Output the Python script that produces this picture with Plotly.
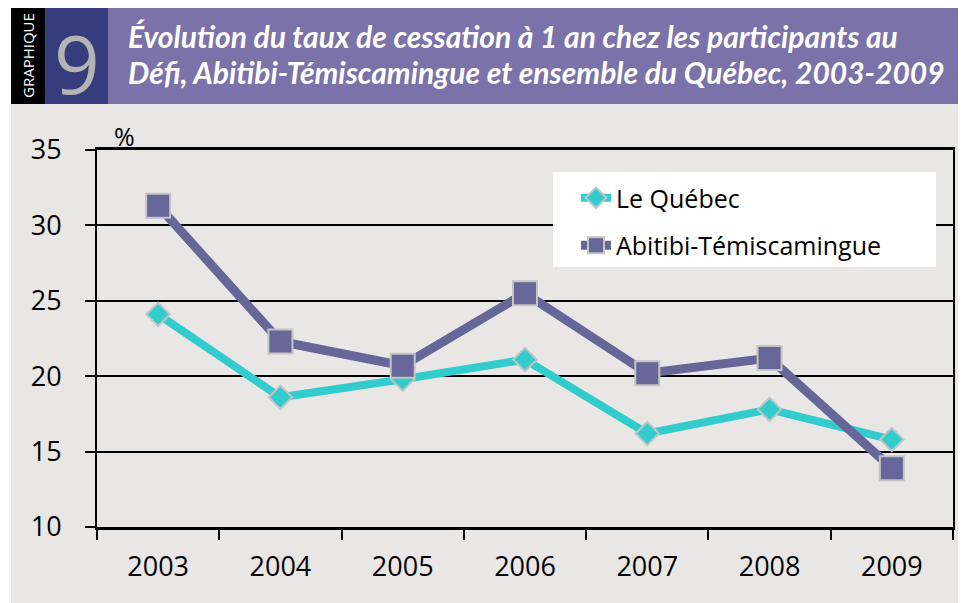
import plotly.graph_objects as go

years = ["2003", "2004", "2005", "2006", "2007", "2008", "2009"]
quebec = [24.1, 18.6, 19.8, 21.1, 16.2, 17.8, 15.8]
abitibi = [31.3, 22.3, 20.7, 25.5, 20.2, 21.2, 13.9]
series_names = ["Le Québec", "Abitibi-Témiscamingue"]
y_ticks = [10, 15, 20, 25, 30, 35]
title_lines = ["Évolution du taux de cessation à 1 an chez les participants au",
               "Défi, Abitibi-Témiscamingue et ensemble du Québec, 2003-2009"]

OFF = 8  # page body margin
W, H = 966 - OFF, 603 - OFF
L, R, T, B = 97, 953, 150, 527  # plot area in page pixels

def px(x):
    return (x - L) / (R - L)

def py(y):
    return (B - y) / (B - T)

fig = go.Figure()
fig.add_trace(go.Scatter(
    x=years, y=quebec, name=series_names[0], mode="lines+markers", legendgroup="a",
    line=dict(color="#33CCCC", width=8),
    marker=dict(symbol="diamond", size=18, color="#33CCCC",
                line=dict(color="#C4C4C4", width=2)),
))
fig.add_trace(go.Scatter(
    x=years, y=abitibi, name=series_names[1], mode="lines+markers", legendgroup="b",
    line=dict(color="#666699", width=9),
    marker=dict(symbol="square", size=24, color="#666699",
                line=dict(color="#C4C4C4", width=2)),
))

shapes = [
    dict(type="rect", xref="paper", yref="paper", x0=px(11), x1=px(970), y0=py(104), y1=py(610),
         fillcolor="#E8E7E5", line=dict(width=0), layer="below"),
    dict(type="rect", xref="paper", yref="paper", x0=px(11), x1=px(45), y0=py(8), y1=py(104),
         fillcolor="#000000", line=dict(width=0), layer="below"),
    dict(type="rect", xref="paper", yref="paper", x0=px(45), x1=px(108), y0=py(8), y1=py(104),
         fillcolor="#363C7C", line=dict(width=0), layer="below"),
    dict(type="rect", xref="paper", yref="paper", x0=px(108), x1=px(970), y0=py(8), y1=py(104),
         fillcolor="#7B72A9", line=dict(width=0), layer="below"),
    # legend box
    dict(type="rect", xref="paper", yref="paper", x0=px(553), x1=px(936), y0=py(172), y1=py(267),
         fillcolor="white", line=dict(width=0), layer="above"),
]

annotations = [
    dict(text="GRAPHIQUE", xref="paper", yref="paper", x=px(28), y=py(56), textangle=-90,
         showarrow=False, font=dict(family="Open Sans", size=15, color="white"),
         xanchor="center", yanchor="middle"),
    dict(text="9", xref="paper", yref="paper", x=px(77), y=py(62),
         showarrow=False, font=dict(family="Open Sans", size=80, color="#B4B4B4"),
         xanchor="center", yanchor="middle"),
    dict(text="<b><i>" + title_lines[0] + "</i></b>", xref="paper", yref="paper", x=px(126), y=py(36),
         showarrow=False, font=dict(family="Lato", size=30, color="white"),
         xanchor="left", yanchor="middle"),
    dict(text="<b><i>" + title_lines[1] + "</i></b>", xref="paper", yref="paper", x=px(126), y=py(72),
         showarrow=False, font=dict(family="Lato", size=30, color="white"),
         xanchor="left", yanchor="middle"),
    dict(text="%", xref="paper", yref="paper", x=px(124), y=py(136),
         showarrow=False, font=dict(family="Open Sans", size=25, color="black"),
         xanchor="center", yanchor="middle"),
]

fig.update_layout(
    width=W, height=H,
    margin=dict(l=L - OFF, r=W - (R - OFF), t=T - OFF, b=H - (B - OFF), pad=0),
    paper_bgcolor="white", plot_bgcolor="#E8E7E5",
    shapes=shapes, annotations=annotations,
    font=dict(family="Open Sans", color="black"),
    showlegend=True,
    legend=dict(x=px(576), y=py(175), xanchor="left", yanchor="top",
                bgcolor="rgba(0,0,0,0)", borderwidth=0,
                font=dict(family="Open Sans", size=25, color="black"),
                tracegroupgap=12),
    xaxis=dict(type="category", showgrid=False, showline=True, linecolor="black", linewidth=3,
               mirror=True, ticks="outside", tickson="boundaries", ticklen=10, tickwidth=2,
               tickcolor="black", tickfont=dict(size=27, color="black"), range=[-0.5, 6.5],
               ticklabelstandoff=14, fixedrange=True),
    yaxis=dict(range=[10, 35], tickvals=y_ticks, showgrid=True, gridcolor="black", gridwidth=2,
               showline=True, linecolor="black", linewidth=2, mirror=True, zeroline=False,
               ticks="outside", ticklen=10, tickwidth=2, tickcolor="black",
               tickfont=dict(size=27, color="black"), ticklabelstandoff=18, fixedrange=True),
)

fig.write_html("out.html")
